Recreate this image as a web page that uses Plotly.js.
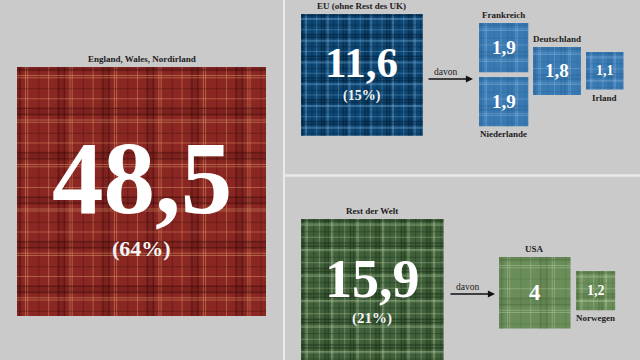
<!DOCTYPE html>
<html>
<head>
<meta charset="utf-8">
<script src="https://cdn.plot.ly/plotly-3.0.1.min.js"></script>
<style>html,body{margin:0;padding:0;background:#cbcaca;}#chart{width:640px;height:360px;}</style>
</head>
<body>
<div id="chart"></div>
<script>
// ---- data ----
const regions = ['England, Wales, Nordirland', 'EU (ohne Rest des UK)', 'Rest der Welt'];
const regionValues = [48.5, 11.6, 15.9];
const euCountries = ['Frankreich', 'Niederlande', 'Deutschland', 'Irland'];
const euValues = [1.9, 1.9, 1.8, 1.1];
const worldCountries = ['USA', 'Norwegen'];
const worldValues = [4, 1.2];
const arrowLabel = 'davon';

// ---- layout configuration ----
const SCALE = 249 / Math.sqrt(48.5); // px per sqrt(unit) -> square area ~ value
const palettes = {
  red:   {base: '#8a2722', dark: '#2e0806', light: '#f0b27a', k: 0.75},
  navy:  {base: '#0d4672', dark: '#021526', light: '#7fb1da', k: 0.7},
  blue:  {base: '#3a7ab3', dark: '#1f5688', light: '#b3d4ef', k: 0.5},
  green: {base: '#3f603a', dark: '#152412', light: '#bcd0a4', k: 0.75},
  lgreen:{base: '#6a8d59', dark: '#3f5f33', light: '#cde0b8', k: 0.6}
};
const regionBoxes = [
  {x0: 17,  y0: 67,  pal: 'red',   reps: 5.6, vFont: 103, vOff: -14, pFont: 22, pOff: 57, label: 'above'},
  {x0: 301, y0: 14,  pal: 'navy',  reps: 5.6, vFont: 43,  vOff: -12, pFont: 14, pOff: 21, label: 'above'},
  {x0: 301, y0: 219, pal: 'green', reps: 5.6, vFont: 54,  vOff: -11, pFont: 15, pOff: 28, label: 'above'}
];
const euBoxes = [
  {x0: 479, y0: 23, label: 'above', vFont: 19},
  {x0: 479, y0: 77, label: 'below', vFont: 19},
  {x0: 533, y0: 47, label: 'above', vFont: 19},
  {x0: 586, y0: 52, label: 'below', vFont: 14}
];
const worldBoxes = [
  {x0: 499, y0: 257, label: 'above', vFont: 23},
  {x0: 576, y0: 271, label: 'below', vFont: 14}
];
const arrows = [
  {x: 473, ax: 427, y: 79},
  {x: 495, ax: 449, y: 294}
];
const serif = 'Liberation Serif, Times New Roman, serif';

function fmt(v) { return String(v).replace('.', ','); }
const total = regionValues.reduce((a, b) => a + b, 0);

const shapes = [];
const annotations = [];

// plaid sett (positions as fraction of period; w in fraction or px)
const sett = [
  {p: 0.00, w: 0.20, frac: true, c: 'dark', o: 0.18},
  {p: 0.02, w: 1.2, c: 'dark', o: 0.5},
  {p: 0.15, w: 1.2, c: 'dark', o: 0.5},
  {p: 0.28, w: 1.0, c: 'light', o: 0.55},
  {p: 0.33, w: 1.0, c: 'light', o: 0.55},
  {p: 0.58, w: 1.0, c: 'dark', o: 0.4},
  {p: 0.80, w: 1.0, c: 'light', o: 0.5}
];

function addSquare(x0, y0, value, palName, reps) {
  const s = SCALE * Math.sqrt(value);
  const pal = palettes[palName];
  shapes.push({type: 'rect', xref: 'x', yref: 'y', x0: x0, x1: x0 + s, y0: y0, y1: y0 + s,
    fillcolor: pal.base, line: {width: 0}});
  const P = s / reps;
  const off = -0.1 * P;
  ['v', 'h'].forEach(function (dir) {
    for (let k = -1; k * P < s; k++) {
      sett.forEach(function (el) {
        let a = off + k * P + el.p * P;
        let b = a + (el.frac ? el.w * P : el.w);
        a = Math.max(a, 0); b = Math.min(b, s);
        if (b <= a) return;
        const r = {type: 'rect', xref: 'x', yref: 'y', fillcolor: pal[el.c], opacity: el.o * pal.k, line: {width: 0}};
        if (dir === 'v') { r.x0 = x0 + a; r.x1 = x0 + b; r.y0 = y0; r.y1 = y0 + s; }
        else { r.x0 = x0; r.x1 = x0 + s; r.y0 = y0 + a; r.y1 = y0 + b; }
        shapes.push(r);
      });
    }
  });
  return s;
}

function addLabel(text, box, s) {
  const cx = box.x0 + s / 2;
  const y = box.label === 'above' ? box.y0 - 8 : box.y0 + s + 8;
  annotations.push({x: cx, y: y, xref: 'x', yref: 'y', text: '<b>' + text + '</b>', showarrow: false,
    font: {family: serif, size: 9, color: '#1c1c1c'}, xanchor: 'center', yanchor: 'middle'});
}

// big regions
regions.forEach(function (name, i) {
  const b = regionBoxes[i];
  const s = addSquare(b.x0, b.y0, regionValues[i], b.pal, b.reps);
  addLabel(name, b, s);
  const cx = b.x0 + s / 2, cy = b.y0 + s / 2;
  annotations.push({x: cx, y: cy + b.vOff, xref: 'x', yref: 'y', text: '<b>' + fmt(regionValues[i]) + '</b>',
    showarrow: false, font: {family: serif, size: b.vFont, color: '#ffffff', weight: 'bold'}, xanchor: 'center', yanchor: 'middle'});
  annotations.push({x: cx, y: cy + b.pOff, xref: 'x', yref: 'y',
    text: '<b>(' + Math.round(regionValues[i] / total * 100) + '%)</b>',
    showarrow: false, font: {family: serif, size: b.pFont, color: '#f4f4f4'}, xanchor: 'center', yanchor: 'middle'});
});

function addSmall(names, values, boxes, palName) {
  names.forEach(function (name, i) {
    const b = boxes[i];
    const s = addSquare(b.x0, b.y0, values[i], palName, 1.6);
    addLabel(name, b, s);
    annotations.push({x: b.x0 + s / 2, y: b.y0 + s / 2, xref: 'x', yref: 'y', text: '<b>' + fmt(values[i]) + '</b>',
      showarrow: false, font: {family: serif, size: b.vFont, color: '#ffffff'}, xanchor: 'center', yanchor: 'middle'});
  });
}
addSmall(euCountries, euValues, euBoxes, 'blue');
addSmall(worldCountries, worldValues, worldBoxes, 'lgreen');

arrows.forEach(function (a) {
  annotations.push({x: a.x, y: a.y, ax: a.ax, ay: a.y, xref: 'x', yref: 'y', axref: 'x', ayref: 'y',
    text: '', showarrow: true, arrowhead: 2, arrowsize: 1.1, arrowwidth: 1.3, arrowcolor: '#111'});
  annotations.push({x: (a.x + a.ax) / 2 - 5, y: a.y - 7, xref: 'x', yref: 'y', text: arrowLabel, showarrow: false,
    font: {family: serif, size: 9.5, color: '#1c1c1c'}, xanchor: 'center', yanchor: 'middle'});
});

// panel dividers
shapes.push({type: 'line', xref: 'x', yref: 'y', x0: 284, x1: 284, y0: 0, y1: 360, line: {color: '#f4f4f4', width: 1.5}});
shapes.push({type: 'line', xref: 'x', yref: 'y', x0: 285, x1: 640, y0: 175.5, y1: 175.5, line: {color: '#e9e9e9', width: 2.5}});

const layout = {
  width: 640, height: 360,
  margin: {l: 0, r: 0, t: 0, b: 0},
  paper_bgcolor: '#cbcaca', plot_bgcolor: '#cbcaca',
  xaxis: {range: [0, 640], visible: false, fixedrange: true},
  yaxis: {range: [360, 0], visible: false, fixedrange: true},
  showlegend: false,
  shapes: shapes,
  annotations: annotations
};
Plotly.newPlot('chart', [{x: [], y: [], type: 'scatter', hoverinfo: 'skip'}], layout, {staticPlot: true, displayModeBar: false});
</script>
</body>
</html>
